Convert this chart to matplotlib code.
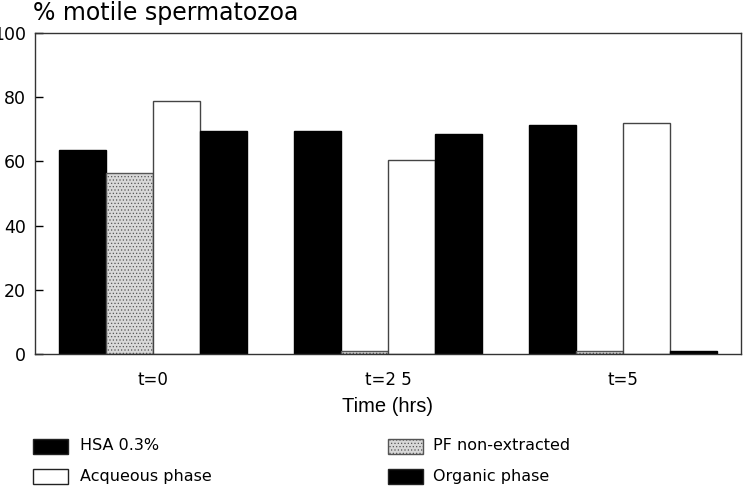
import matplotlib
matplotlib.use("Agg")
import matplotlib.pyplot as plt
import numpy as np
from matplotlib.patches import Rectangle

plt.rcParams['font.family'] = ['DejaVu Sans']
plt.rcParams['hatch.linewidth'] = 0.5
plt.rcParams['hatch.color'] = '#8a8a8a'

categories = ["t=0", "t=2 5", "t=5"]
series_names = ["HSA 0.3%", "PF non-extracted", "Acqueous phase", "Organic phase"]
hsa = [63.4, 69.4, 71.2]
pf = [56.5, 1.0, 1.0]
aqueous = [78.7, 60.3, 71.9]
organic = [69.4, 68.4, 1.0]
yticks = [0, 20, 40, 60, 80, 100]

W, H = 746, 492
fig = plt.figure(figsize=(W/100, H/100), dpi=100)
ax = fig.add_axes([35/W, 1-354/H, (741-35)/W, (354-33)/H])

x = np.arange(len(categories))
w = 0.2
styles = [
    dict(color='black', edgecolor='black'),
    dict(color='#d8d8d8', edgecolor='#555555', hatch='.....'),
    dict(color='white', edgecolor='#444444'),
    dict(color='black', edgecolor='black'),
]
data = [hsa, pf, aqueous, organic]
for i, (vals, st) in enumerate(zip(data, styles)):
    ax.bar(x + (i - 1.5) * w, vals, width=w, linewidth=1.0, **st)

ax.set_xlim(-0.5, 2.5)
ax.set_ylim(0, 100)
ax.set_yticks(yticks)
ax.set_yticklabels([str(v) for v in yticks], fontsize=12.5)
ax.tick_params(axis='y', direction='in', length=6, pad=6.5, width=1)
ax.set_xticks(x)
ax.set_xticklabels(categories, fontsize=12)
ax.tick_params(axis='x', length=0, pad=12)
for s in ax.spines.values():
    s.set_linewidth(1.0)
    s.set_color('#333333')
ax.set_xlabel("Time (hrs)", fontsize=14.5, labelpad=6, family='Liberation Sans')

fig.text(33/W, 1-13/H, "% motile spermatozoa", fontsize=17, ha='left', va='center')

# legend (manual placement, two columns)
leg_cols = [(33, 80), (388, 433)]
leg_rows = [446, 476]
leg_pos = [(0, 0), (1, 0), (0, 1), (1, 1)]  # (col,row) for each series
for i, name in enumerate(series_names):
    c, r = leg_pos[i]
    sx, tx = leg_cols[c]
    cy = leg_rows[r]
    st = styles[i]
    rect = Rectangle((sx/W, 1-(cy+7.5)/H), 35/W, 15/H, transform=fig.transFigure,
                     facecolor=st['color'], edgecolor='#222222' if i != 1 else '#555555',
                     hatch=st.get('hatch'), linewidth=1.0)
    fig.patches.append(rect)
    fig.text(tx/W, 1-cy/H, name, fontsize=11.5, ha='left', va='center')

fig.savefig("out.png", dpi=100)
